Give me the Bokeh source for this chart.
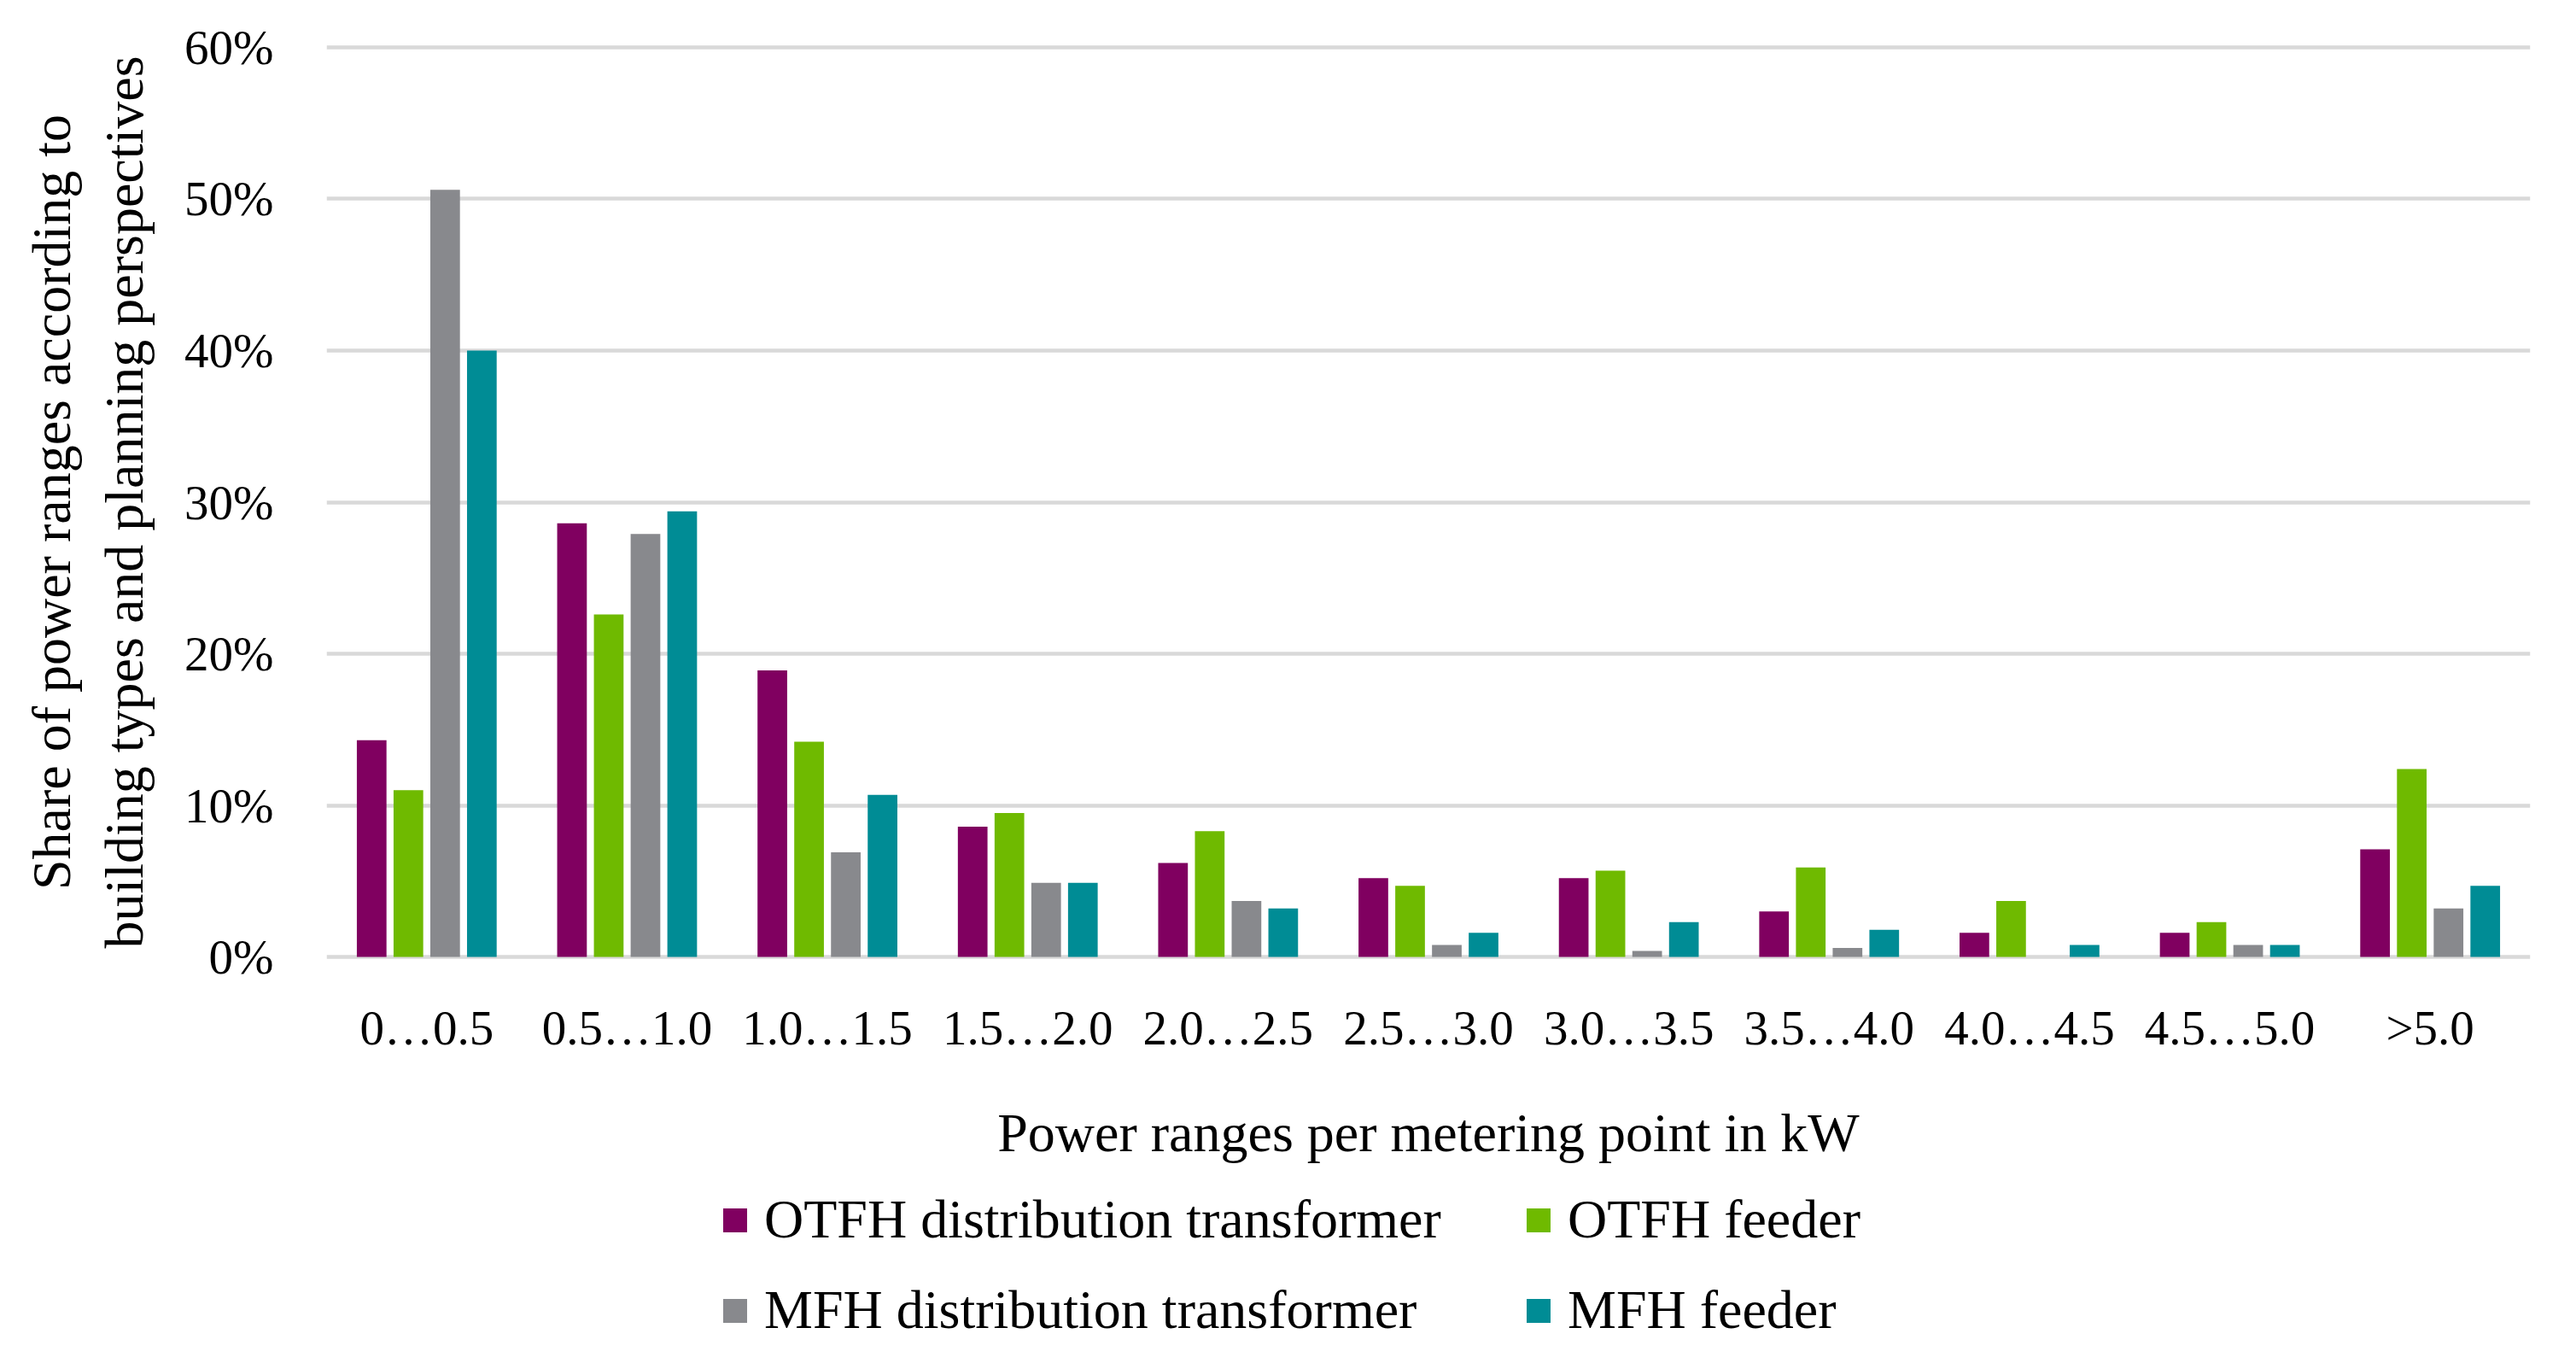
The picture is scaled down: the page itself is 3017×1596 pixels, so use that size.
from bokeh.plotting import figure
from bokeh.layouts import column
from bokeh.models import (ColumnDataSource, FactorRange, Range1d, FixedTicker,
                          PrintfTickFormatter, Legend, LegendItem)
from bokeh.transform import dodge
from bokeh.embed import file_html
from bokeh.resources import INLINE

# ---- data (percent) ----
categories = ["0…0.5", "0.5…1.0", "1.0…1.5", "1.5…2.0", "2.0…2.5", "2.5…3.0",
              "3.0…3.5", "3.5…4.0", "4.0…4.5", "4.5…5.0", ">5.0"]
otfh_transformer = [14.3, 28.6, 18.9, 8.6, 6.2, 5.2, 5.2, 3.0, 1.6, 1.6, 7.1]
otfh_feeder = [11.0, 22.6, 14.2, 9.5, 8.3, 4.7, 5.7, 5.9, 3.7, 2.3, 12.4]
mfh_transformer = [50.6, 27.9, 6.9, 4.9, 3.7, 0.8, 0.4, 0.6, 0.0, 0.8, 3.2]
mfh_feeder = [40.0, 29.4, 10.7, 4.9, 3.2, 1.6, 2.3, 1.8, 0.8, 0.8, 4.7]
series_names = ["OTFH distribution transformer", "OTFH feeder",
                "MFH distribution transformer", "MFH feeder"]
y_ticks = [0, 10, 20, 30, 40, 50, 60]

colors = ["#800060", "#6FBA00", "#88898D", "#008C95"]
offsets = [-0.275, -0.0917, 0.0917, 0.275]
FONT = "Liberation Serif"

source = ColumnDataSource(dict(cats=categories, s0=otfh_transformer, s1=otfh_feeder,
                               s2=mfh_transformer, s3=mfh_feeder))

p = figure(width=3000, height=1390, x_range=FactorRange(*categories),
           y_range=Range1d(-0.5, 60.5), output_backend="svg", toolbar_location=None,
           min_border_left=382, min_border_right=37, min_border_top=46,
           min_border_bottom=261)
p.outline_line_color = None
p.background_fill_color = "white"

for i, key in enumerate(["s0", "s1", "s2", "s3"]):
    p.vbar(x=dodge("cats", offsets[i], range=p.x_range), top=key, bottom=0,
           width=0.148, source=source, fill_color=colors[i], line_color=None)

# grid
p.xgrid.grid_line_color = None
p.ygrid.grid_line_color = "#D9D9D9"
p.ygrid.grid_line_width = 4.5
p.yaxis.ticker = FixedTicker(ticks=y_ticks)
p.yaxis.formatter = PrintfTickFormatter(format="%d%%")

for ax in (p.xaxis[0], p.yaxis[0]):
    ax.axis_line_color = None
    ax.major_tick_line_color = None
    ax.minor_tick_line_color = None
    ax.major_tick_out = 0
    ax.major_tick_in = 0
    ax.minor_tick_out = 0
    ax.major_label_text_font = FONT
    ax.major_label_text_color = "#000000"
    ax.axis_label_text_font = FONT
    ax.axis_label_text_color = "#000000"
    ax.axis_label_text_font_style = "normal"

p.yaxis.major_label_text_font_size = "57px"
p.yaxis.major_label_standoff = 62
p.yaxis.axis_label = "Share of power ranges according to\nbuilding types and planning perspectives"
p.yaxis.axis_label_text_font_size = "64px"
p.yaxis.axis_label_standoff = 32

p.xaxis.major_label_text_font_size = "57px"
p.xaxis.major_label_standoff = 42
p.xaxis.axis_label = "Power ranges per metering point in kW"
p.xaxis.axis_label_text_font_size = "64px"
p.xaxis.axis_label_standoff = 53

# ---- legend strip (separate figure so that it is not clipped) ----
lg = figure(width=3000, height=190, x_range=Range1d(0, 1), y_range=Range1d(0, 1),
            output_backend="svg", toolbar_location=None, min_border=0)
lg.axis.visible = False
lg.grid.visible = False
lg.outline_line_color = None
swatches = []
for i in range(4):
    # off-canvas swatch renderers: only used to draw the legend keys
    r = lg.vbar(x=[-10], top=[-10], bottom=[-11], width=0.1,
                fill_color=colors[i], line_color=None)
    swatches.append(r)

order = [0, 2, 1, 3]  # legend fills column by column
items = [LegendItem(label=series_names[i], renderers=[swatches[i]]) for i in order]
legend = Legend(items=items, ncols=2, location=(461, 9),
                glyph_width=35, glyph_height=35, label_standoff=17,
                label_height=70, label_width=857, spacing=32,
                padding=0, margin=0, border_line_color=None,
                background_fill_alpha=0,
                label_text_font=FONT, label_text_font_size="64px",
                label_text_color="#000000")
lg.add_layout(legend, "center")

layout = column(p, lg, spacing=0)
open("out.html", "w", encoding="utf-8").write(file_html(layout, INLINE))
